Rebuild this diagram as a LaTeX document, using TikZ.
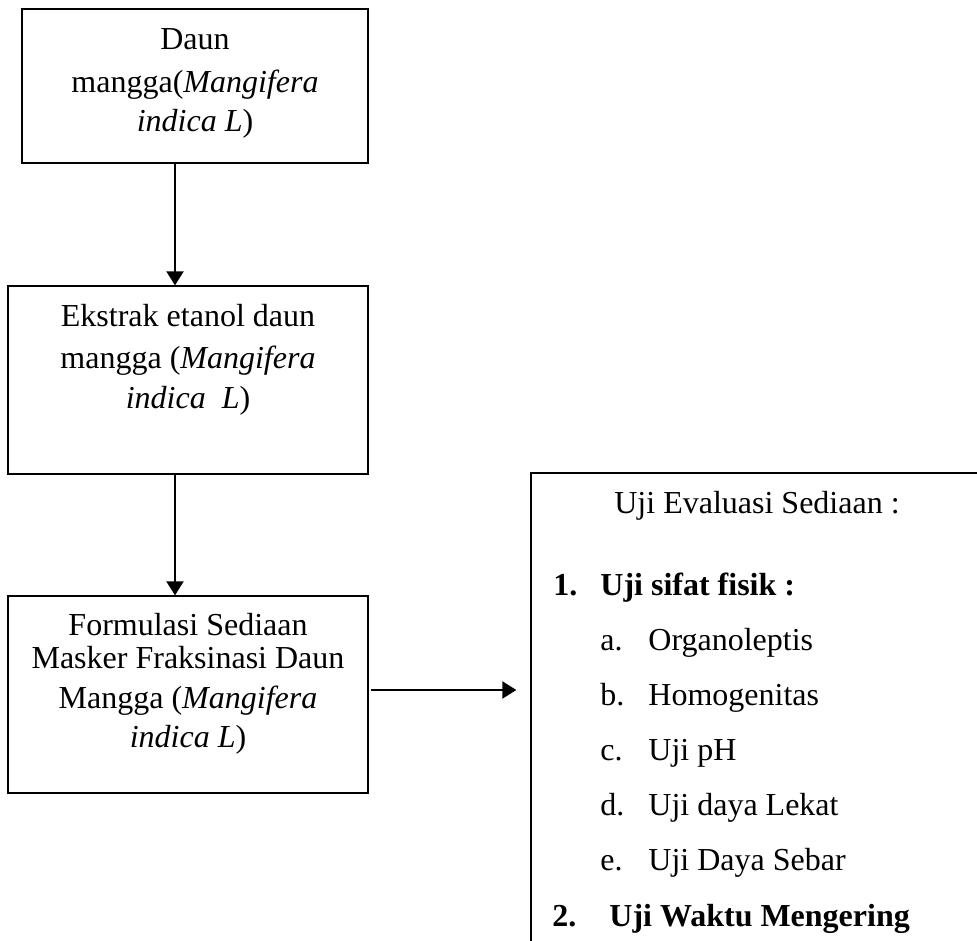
\documentclass[tikz,border=0pt]{standalone}
\usepackage{fontspec}
\setmainfont{Liberation Serif}
\usetikzlibrary{arrows.meta}
\begin{document}
\begin{tikzpicture}[x=0.5pt,y=-0.5pt,
  box/.style={draw, line width=0.65pt, inner sep=0pt, rectangle},
  txt/.style={anchor=base, inner sep=0pt, font=\fontsize{16pt}{19pt}\selectfont},
  ltxt/.style={anchor=base west, inner sep=0pt, font=\fontsize{16pt}{19pt}\selectfont},
  arr/.style={-{Triangle[length=7pt,width=8.5pt]}, line width=1pt}]
\useasboundingbox (0,0) rectangle (977,940);
\clip (0,0) rectangle (977,940);
% boxes
\node[box, minimum width=173pt, minimum height=77pt] (b1) at (195,86) {};
\node[box, minimum width=180pt, minimum height=94pt] (b2) at (188,380) {};
\node[box, minimum width=180pt, minimum height=98.5pt] (b3) at (188,694.5) {};
\node[box, minimum width=226pt, minimum height=263.5pt] (b4) at (757,736.5) {};
% box 1 text
\node[txt] (t11) at (195,50) {Daun};
\node[txt] (t12) at (195,93) {mangga(\textit{Mangifera}};
\node[txt] (t13) at (195,132) {\textit{indica L})};
% box 2 text
\node[txt] (t21) at (188,327) {Ekstrak etanol daun};
\node[txt] (t22) at (188,368) {mangga (\textit{Mangifera}};
\node[txt] (t23) at (188,408) {\textit{indica\ \ L})};
% box 3 text
\node[txt] (t31) at (188,635) {Formulasi Sediaan};
\node[txt] (t32) at (188,668) {Masker Fraksinasi Daun};
\node[txt] (t33) at (188,708) {Mangga (\textit{Mangifera}};
\node[txt] (t34) at (188,747) {\textit{indica L})};
% box 4 text
\node[txt] (t40) at (757,513) {Uji Evaluasi Sediaan :};
\node[ltxt] (n1) at (553,595) {\textbf{1.}};
\node[ltxt] (i1) at (600,595) {\textbf{Uji sifat fisik :}};
\node[ltxt] (la) at (600,650) {a.};
\node[ltxt] (ia) at (648,650) {Organoleptis};
\node[ltxt] (lb) at (600,705) {b.};
\node[ltxt] (ib) at (648,705) {Homogenitas};
\node[ltxt] (lc) at (600,760) {c.};
\node[ltxt] (ic) at (648,760) {Uji pH};
\node[ltxt] (ld) at (600,815) {d.};
\node[ltxt] (id) at (648,815) {Uji daya Lekat};
\node[ltxt] (le) at (600,870) {e.};
\node[ltxt] (ie) at (648,870) {Uji Daya Sebar};
\node[ltxt] (n2) at (552,926) {\textbf{2.}};
\node[ltxt] (i2) at (609,926) {\textbf{Uji Waktu Mengering}};
% connectors
\draw[arr] (175,0 |- b1.south) -- (175,0 |- b2.north);
\draw[arr] (175,0 |- b2.south) -- (175,0 |- b3.north);
\draw[arr, shorten <=1pt, shorten >=7pt] (b3.east |- 0,690) -- (b4.west |- 0,690);
\end{tikzpicture}
\end{document}
